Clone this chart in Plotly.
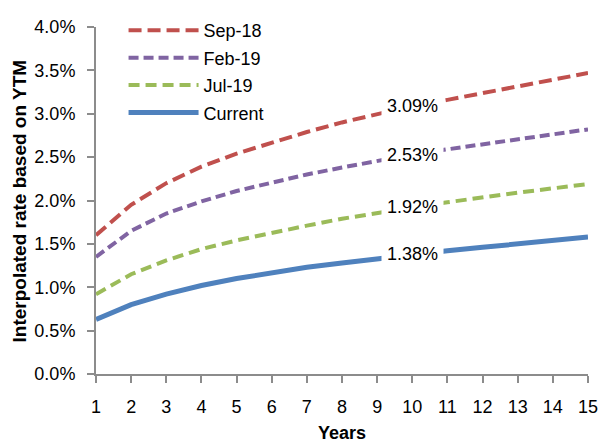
import plotly.graph_objects as go

years = list(range(1, 16))
sep18 = [1.60, 1.95, 2.20, 2.39, 2.54, 2.67, 2.79, 2.90, 3.00, 3.09, 3.16, 3.24, 3.32, 3.40, 3.47]
feb19 = [1.35, 1.65, 1.85, 1.99, 2.11, 2.21, 2.30, 2.38, 2.46, 2.53, 2.59, 2.65, 2.71, 2.77, 2.82]
jul19 = [0.92, 1.15, 1.31, 1.44, 1.54, 1.63, 1.71, 1.79, 1.86, 1.92, 1.98, 2.04, 2.09, 2.14, 2.19]
current = [0.63, 0.80, 0.92, 1.02, 1.10, 1.17, 1.23, 1.28, 1.33, 1.38, 1.42, 1.46, 1.50, 1.54, 1.58]
series_names = ["Sep-18", "Feb-19", "Jul-19", "Current"]
label_year = 10

FONT = "Liberation Sans, Arial, sans-serif"
series = [
    (series_names[0], sep18, "#C0504D", "13px,6px", 4),
    (series_names[1], feb19, "#8064A2", "10px,5px", 4),
    (series_names[2], jul19, "#9BBB59", "11px,6px", 4),
    (series_names[3], current, "#4F81BD", "solid", 5),
]

fig = go.Figure()
for name, vals, color, dash, w in series:
    fig.add_trace(go.Scatter(
        x=years, y=[v / 100 for v in vals], mode="lines", name=name, legendgroup=name,
        line=dict(color=color, width=w, dash=dash),
    ))

idx = years.index(label_year)
for name, vals, color, dash, w in series:
    fig.add_annotation(
        x=label_year, y=vals[idx] / 100, text=f"{vals[idx]:.2f}%",
        showarrow=False, bgcolor="white", borderpad=5,
        font=dict(family=FONT, size=18, color="black"),
    )

fig.add_annotation(
    xref="paper", yref="paper", x=-0.1545, y=0.5, xanchor="center", yanchor="middle",
    text="<b>Interpolated rate based on YTM</b>",
    textangle=-90, showarrow=False, font=dict(family=FONT, size=19, color="black"),
)

fig.update_layout(
    width=600, height=443,
    margin=dict(l=96, r=12, t=22, b=69),
    paper_bgcolor="white", plot_bgcolor="white",
    font=dict(family=FONT, size=18, color="black"),
    showlegend=True,
    legend=dict(x=0.056, y=1.043, xanchor="left", yanchor="top", bgcolor="rgba(0,0,0,0)",
                font=dict(size=18), itemwidth=70, tracegroupgap=1),
    xaxis=dict(
        range=[1, 15], tickmode="array", tickvals=years, ticktext=[str(y) for y in years],
        showline=True, linecolor="#8c8c8c", linewidth=2, ticks="outside", ticklen=7,
        tickcolor="#8c8c8c", tickwidth=2, showgrid=False, zeroline=False,
        title=dict(text="<b>Years</b>", font=dict(size=18), standoff=21),
        ticklabelstandoff=8, automargin=False,
    ),
    yaxis=dict(
        range=[0, 0.04], tickvals=[i * 0.005 for i in range(9)], tickformat=".1%",
        showline=True, linecolor="#8c8c8c", linewidth=2, ticks="outside", ticklen=7,
        tickcolor="#8c8c8c", tickwidth=2, showgrid=False, zeroline=False,
        ticklabelstandoff=8, automargin=False,
    ),
)

fig.write_html("out.html", config={"displayModeBar": False},
               post_script="document.body.style.margin='0';")
